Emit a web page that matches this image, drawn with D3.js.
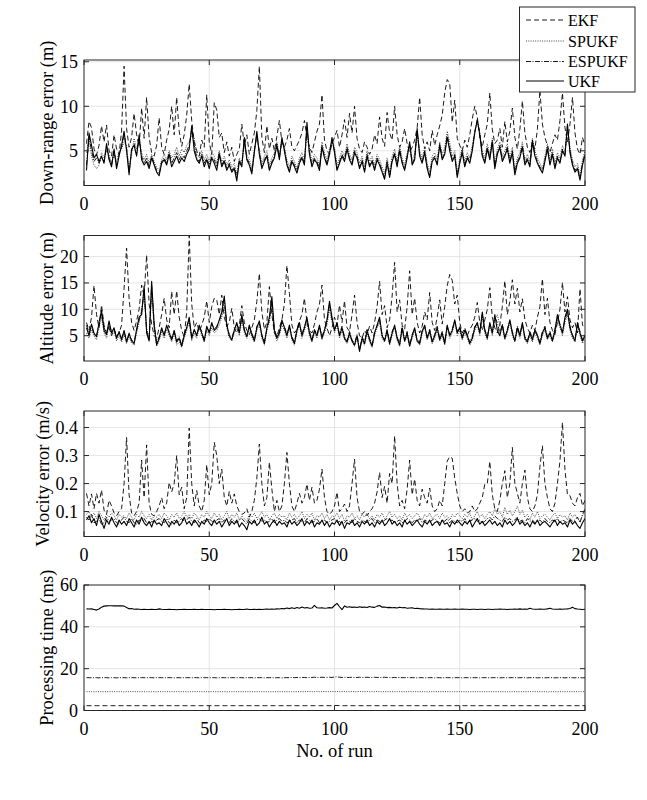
<!DOCTYPE html>
<html><head><meta charset="utf-8">
<script src="https://cdn.jsdelivr.net/npm/d3@7"></script>
<style>body{margin:0;background:#fff}svg{display:block}text{font-family:"Liberation Serif","Times New Roman",serif;fill:#000}</style>
</head><body><svg id="c" width="647" height="800" font-family="Liberation Serif, Times New Roman, serif"></svg>
<script>
// ---------------- DATA ----------------
const seriesNames = ["EKF","SPUKF","ESPUKF","UKF"];
const xTicks = [0,50,100,150,200];
const yLabels = ["Down-range error (m)","Altitude error (m)","Velocity error (m/s)","Processing time (ms)"];
const yTicksDown = [5,10,15];
const yTicksAlt = [5,10,15,20];
const yTicksVel = [0.1,0.2,0.3,0.4];
const yTicksTime = [0,20,40,60];
const xLabel = "No. of run";

const ekfDown = [5.8,8.3,7.6,5.2,4.5,5.6,7.8,6.0,7.9,5.0,
4.4,6.8,5.2,4.6,7.2,14.5,7.5,5.4,6.5,9.2,
6.8,5.5,9.8,6.4,11.0,6.5,4.8,4.4,5.6,8.7,
5.4,4.6,6.2,7.4,10.0,6.8,11.0,7.2,5.5,6.8,
9.0,12.5,8.4,6.0,5.0,4.4,6.2,5.4,11.3,6.0,
4.6,10.4,9.6,6.5,7.0,4.8,6.0,4.4,5.4,3.8,
4.6,5.2,8.0,5.6,6.8,4.6,5.8,7.0,9.5,14.5,
6.5,4.8,7.8,5.2,6.4,5.0,6.6,8.4,6.0,5.4,
6.2,7.5,5.4,5.0,5.6,6.2,7.0,8.4,6.5,5.4,
4.8,6.0,7.2,8.0,11.3,6.2,5.0,4.6,5.8,6.5,
7.3,5.4,6.8,8.5,6.5,9.2,7.0,10.0,6.4,5.2,
4.8,6.0,5.4,4.6,5.2,6.8,5.8,8.8,6.4,5.5,
9.3,7.0,6.2,10.0,6.8,5.4,6.0,7.5,5.8,4.8,
5.4,6.2,7.6,11.0,6.8,5.2,6.0,5.0,7.3,5.6,
6.8,7.8,9.0,11.5,13.0,12.6,8.2,10.7,6.4,5.6,
5.0,6.2,5.4,6.8,8.6,10.0,8.8,6.5,5.4,6.8,
8.0,11.5,7.4,5.8,6.2,7.5,5.4,8.3,6.0,7.2,
9.8,6.5,5.2,7.4,10.6,7.0,5.4,4.8,6.0,5.2,
7.4,11.8,8.0,6.5,5.6,4.8,5.8,6.8,6.2,8.4,
11.5,7.6,6.0,8.0,11.0,7.0,5.2,4.6,6.5,5.6];
const spukfDown = [4.8,6.2,4.4,3.4,3.0,3.4,4.8,4.2,5.0,4.6,
3.6,4.6,3.8,5.0,5.2,6.0,5.6,3.0,4.6,6.4,
5.2,6.0,4.8,4.0,4.6,3.6,4.6,3.8,3.2,2.8,
4.0,4.6,4.0,5.0,4.2,4.6,5.4,4.4,5.2,4.8,
5.6,6.0,6.8,6.5,4.6,4.2,5.0,4.0,4.6,3.8,
4.8,4.4,3.6,5.0,3.8,4.4,3.4,4.0,3.2,3.6,
2.4,4.2,3.8,5.6,4.6,4.0,3.0,5.2,6.2,5.2,
3.6,4.4,5.0,3.4,4.2,4.8,6.0,4.6,6.0,5.4,
4.0,3.2,4.4,3.8,3.0,4.2,4.8,4.0,7.0,5.2,
3.8,4.6,4.2,3.4,6.0,4.8,4.0,5.2,6.0,5.4,
3.4,4.2,5.0,4.4,5.8,4.6,4.0,5.4,4.8,3.6,
4.4,3.2,5.0,3.8,4.4,3.4,4.6,4.0,3.2,2.4,
4.2,2.6,4.4,5.2,3.8,5.6,4.2,3.4,4.8,5.6,
4.0,4.6,6.8,5.0,4.2,5.4,3.6,2.6,4.4,4.8,
4.0,6.0,4.6,5.4,7.2,6.0,4.4,5.0,2.6,4.2,
5.4,3.8,4.8,4.2,5.6,7.2,8.2,7.0,5.0,4.2,
5.8,4.6,6.4,3.6,5.2,6.0,4.4,5.0,5.8,4.2,
5.4,2.9,4.2,4.8,6.0,4.0,4.6,3.8,6.4,5.0,
4.2,3.6,3.0,4.4,5.8,4.0,5.2,3.6,4.8,4.2,
5.6,5.0,7.4,5.4,4.0,3.2,3.6,2.2,4.0,5.0];
const espukfDown = [3.4,6.6,5.0,3.8,4.2,3.6,4.2,3.8,5.4,4.2,
3.4,5.0,3.4,4.6,5.4,6.8,5.2,2.6,5.0,5.8,
4.6,6.4,4.4,3.6,4.2,3.2,4.4,3.6,2.8,2.4,
3.8,4.2,3.6,4.8,3.6,4.2,4.8,4.0,4.6,4.2,
5.0,5.6,7.4,5.6,4.2,3.8,4.6,3.6,4.2,3.4,
4.4,4.0,3.2,4.8,3.4,4.0,3.0,3.6,2.8,3.2,
2.0,4.0,3.4,6.0,4.2,3.6,2.6,5.0,6.8,4.8,
3.2,4.0,4.6,3.0,3.8,4.4,5.8,4.2,6.2,5.2,
3.6,2.8,4.0,3.4,2.8,3.8,4.4,3.6,7.6,4.8,
3.4,4.2,3.8,3.0,5.6,4.4,3.6,4.8,6.2,5.0,
3.0,3.8,4.6,4.0,5.4,4.2,3.6,5.0,4.4,3.2,
4.0,2.8,4.6,3.4,4.0,3.0,4.2,3.6,2.8,2.0,
3.8,2.2,4.0,4.8,3.4,5.2,3.8,3.0,4.4,5.8,
3.6,4.2,7.2,4.6,3.8,5.0,3.2,2.2,4.0,4.4,
3.6,5.8,4.2,4.8,6.8,5.4,4.0,4.6,2.2,3.8,
5.0,3.4,4.4,3.8,5.2,7.2,8.4,7.0,4.6,3.8,
5.4,4.2,6.2,3.2,4.8,5.6,4.0,4.6,5.4,3.8,
5.0,2.5,3.8,4.4,5.6,3.6,4.2,3.4,6.2,4.6,
3.8,3.2,2.7,4.0,5.4,3.6,4.8,3.2,4.4,3.8,
5.2,4.6,7.8,5.0,3.6,2.8,3.2,1.9,3.6,4.7];
const ukfDown = [2.8,7.0,5.6,4.2,4.6,3.8,4.4,3.6,5.8,4.0,
3.2,5.2,3.0,4.4,5.6,7.2,5.0,2.3,5.2,5.6,
4.4,6.8,4.0,3.4,3.8,3.0,4.2,3.4,2.6,2.2,
3.6,4.0,3.4,4.6,3.2,3.8,4.4,3.6,4.2,3.8,
4.6,5.2,7.8,5.0,4.0,3.6,4.4,3.2,4.0,3.0,
4.2,3.6,2.8,4.6,3.2,3.8,2.8,3.4,2.6,3.0,
1.6,3.8,3.2,6.5,4.0,3.4,2.4,4.8,7.2,4.6,
3.0,3.8,4.4,2.8,3.6,4.2,5.6,4.0,6.5,5.0,
3.4,2.6,3.8,3.2,2.5,3.6,4.2,3.4,8.2,4.6,
3.2,4.0,3.6,2.8,5.4,4.2,3.4,4.6,6.5,4.8,
2.8,3.6,4.4,3.8,5.2,4.0,3.4,4.8,4.2,3.0,
3.8,2.6,4.4,3.2,3.8,2.8,4.0,3.4,2.6,1.8,
3.6,2.0,3.8,4.6,3.2,5.0,3.6,2.8,4.2,6.0,
3.4,4.0,7.5,4.4,3.6,4.8,3.0,2.0,3.8,4.2,
3.4,5.6,4.0,4.6,6.5,5.0,3.8,4.4,2.0,3.6,
4.8,3.2,4.2,3.6,5.0,7.0,8.5,6.8,4.4,3.6,
5.2,4.0,6.0,3.0,4.6,5.4,3.8,4.4,5.2,3.6,
4.8,2.3,3.6,4.2,5.4,3.4,4.0,3.2,6.0,4.4,
3.6,3.0,2.5,3.8,5.2,3.4,4.6,3.0,4.2,3.6,
5.0,4.4,8.0,4.8,3.4,2.6,3.0,1.7,3.4,4.5];

const ekfAlt = [7.5,6.0,8.5,14.5,9.0,6.5,10.8,7.0,5.5,6.5,
5.0,6.2,4.8,5.5,7.0,14.0,21.6,12.0,7.5,6.0,
7.8,10.0,14.6,12.5,20.3,11.0,7.2,5.0,4.5,6.5,
9.0,12.1,8.0,6.5,13.4,9.0,13.5,8.5,6.0,4.8,
9.5,24.0,11.0,6.5,7.5,5.8,7.0,8.5,11.6,7.5,
10.5,12.1,11.8,9.0,12.7,8.5,6.8,7.5,10.2,6.5,
5.5,7.0,10.7,7.5,6.0,5.2,6.5,8.0,11.5,16.8,
9.5,6.2,7.5,14.3,9.0,5.5,4.8,6.5,8.0,11.0,
18.3,13.0,7.0,5.5,6.2,7.8,9.0,12.1,7.5,6.0,
5.5,7.2,9.5,11.0,14.6,8.0,6.5,5.0,6.5,8.5,
7.0,10.8,7.5,11.6,6.5,5.8,9.0,12.7,7.5,5.0,
4.5,6.0,5.2,6.8,5.5,7.5,10.5,15.3,9.0,10.7,
6.5,8.0,12.5,18.9,9.5,11.8,7.0,6.2,10.5,17.3,
9.0,12.1,7.5,5.5,6.8,9.5,8.0,13.2,7.5,6.0,
8.5,11.8,7.2,10.5,14.5,16.6,15.5,11.0,12.7,7.5,
5.5,6.5,5.0,6.2,7.0,8.5,11.3,7.5,6.0,8.0,
10.0,14.1,8.5,6.5,5.5,7.0,10.5,15.4,9.0,11.5,
15.6,11.0,14.0,9.5,12.0,8.0,6.5,5.5,7.0,6.0,
8.5,10.5,15.8,9.0,12.1,7.5,6.0,5.2,7.5,10.0,
15.1,9.5,12.4,8.0,6.5,7.5,5.5,13.9,7.0,6.5];
const spukfAlt = [5.5,4.5,6.0,5.0,4.2,6.5,8.5,5.5,4.5,6.8,
5.0,5.8,4.0,5.0,3.8,5.2,3.5,4.8,3.6,3.2,
5.5,7.5,10.0,12.5,6.5,4.5,13.0,6.5,3.0,4.0,
5.8,4.5,6.2,5.0,3.8,5.5,3.2,3.8,2.8,4.5,
6.0,7.5,4.0,5.5,4.5,6.5,5.0,3.8,6.0,5.0,
6.5,5.5,6.0,7.0,8.5,10.5,6.5,4.5,4.0,5.5,
6.5,5.0,8.0,5.5,4.5,6.5,4.8,3.8,6.0,7.0,
4.5,3.2,6.0,7.5,10.5,5.5,4.0,5.0,7.0,6.0,
4.5,6.5,4.2,3.2,5.5,7.0,4.5,6.0,7.5,5.0,
3.8,5.5,4.5,6.5,4.2,5.5,7.0,10.0,7.5,5.5,
7.0,4.5,6.0,4.2,3.5,5.0,3.8,3.0,4.5,2.5,
4.0,3.2,5.5,3.8,2.8,5.0,6.5,7.5,4.5,3.8,
5.5,3.2,5.0,6.5,4.2,3.0,6.0,3.8,5.0,3.0,
4.5,6.0,3.8,3.2,5.5,6.5,4.2,5.5,3.5,4.5,
6.0,4.0,5.0,3.2,6.5,4.5,5.5,7.5,5.0,6.0,
4.2,5.5,4.5,3.2,4.2,6.0,7.0,5.0,8.5,5.5,
4.2,7.0,5.0,8.0,9.0,7.0,6.5,4.2,5.5,7.5,
5.0,3.8,6.0,4.5,7.0,4.2,3.5,5.0,3.8,5.5,
4.5,3.2,5.0,6.0,4.2,5.0,3.8,5.5,8.0,6.5,
5.0,7.5,9.0,6.0,4.5,3.8,7.0,5.0,3.5,4.5];
const espukfAlt = [7.0,5.5,6.8,5.2,5.0,7.0,9.2,6.5,5.5,7.2,
5.8,6.2,4.8,5.5,4.5,5.8,4.0,5.2,4.2,3.8,
6.0,8.0,9.5,13.5,6.0,4.2,14.5,7.5,3.5,4.8,
6.2,5.2,6.8,5.8,4.5,5.8,4.0,4.8,3.2,5.2,
6.8,8.0,4.8,6.0,5.2,6.8,5.8,4.2,6.5,5.8,
7.2,6.2,6.8,7.8,9.0,11.8,7.2,5.2,4.5,6.2,
7.2,5.8,8.5,6.2,5.0,6.8,5.5,4.2,6.8,7.5,
5.2,3.8,6.2,8.0,11.5,6.2,4.8,5.8,7.5,6.8,
5.2,6.8,4.8,3.8,6.2,7.2,5.2,6.8,8.0,5.8,
4.2,6.2,5.2,6.8,4.8,6.2,7.8,11.0,8.0,6.2,
7.2,5.2,6.8,4.8,4.0,5.8,4.2,3.5,5.2,2.2,
4.8,3.8,6.2,4.5,3.2,5.8,6.8,8.0,5.2,4.2,
6.2,3.8,5.8,6.8,4.8,3.5,6.8,4.2,5.8,3.2,
5.2,6.2,4.2,3.8,6.0,6.8,4.8,6.2,4.0,5.2,
6.8,4.5,5.8,3.8,6.8,5.2,6.2,7.8,5.8,6.8,
4.8,6.2,5.2,3.8,4.8,6.8,7.2,5.8,9.0,6.2,
4.8,7.2,5.8,8.5,7.5,5.5,7.2,4.8,6.2,7.8,
5.8,4.2,6.8,5.2,7.2,4.8,4.0,5.8,4.5,6.2,
5.2,3.8,5.8,6.8,4.8,5.8,4.2,6.2,8.5,7.2,
5.8,8.0,9.5,6.8,5.2,4.2,7.2,5.8,4.2,5.2];
const ukfAlt = [6.5,5.0,7.2,5.5,4.8,7.5,9.8,6.0,5.2,7.8,
5.5,6.5,4.5,5.8,4.2,6.0,3.8,5.5,4.0,3.5,
6.2,8.5,9.0,14.4,5.5,4.0,15.3,7.0,3.2,4.5,
6.5,5.0,7.0,5.5,4.2,6.0,3.8,4.5,3.0,5.0,
6.5,8.5,4.5,6.2,5.0,7.0,5.5,4.0,6.8,5.5,
7.5,6.0,6.5,8.0,9.5,12.5,7.0,5.0,4.2,6.0,
7.5,5.5,9.0,6.0,4.8,7.0,5.2,4.0,6.5,7.8,
5.0,3.5,6.5,8.5,12.4,6.0,4.5,5.5,8.0,6.5,
5.0,7.0,4.5,3.5,6.0,7.5,5.0,6.5,8.5,5.5,
4.0,6.0,5.0,7.0,4.5,6.0,8.0,11.5,8.5,6.0,
7.5,5.0,6.5,4.5,3.8,5.5,4.0,3.2,5.0,2.0,
4.5,3.5,6.0,4.2,3.0,5.5,7.0,8.5,5.0,4.0,
6.0,3.5,5.5,7.0,4.5,3.2,6.5,4.0,5.5,3.0,
5.0,6.5,4.0,3.5,5.8,7.0,4.5,6.0,3.8,5.0,
6.5,4.2,5.5,3.5,7.0,5.0,6.0,8.0,5.5,6.5,
4.5,6.0,5.0,3.5,4.5,6.5,7.5,5.5,9.5,6.0,
4.5,7.5,5.5,9.0,6.0,5.0,7.0,4.5,6.0,8.0,
5.5,4.0,6.5,5.0,7.5,4.5,3.8,5.5,4.2,6.0,
5.0,3.5,5.5,6.5,4.5,5.5,4.0,6.0,9.0,7.0,
5.5,8.5,10.0,6.5,5.0,4.0,7.5,5.5,4.0,5.0];

const ekfVel = [0.165,0.12,0.163,0.11,0.165,0.13,0.177,0.105,0.09,0.14,
0.12,0.095,0.085,0.1,0.11,0.2,0.365,0.16,0.095,0.085,
0.1,0.13,0.284,0.15,0.338,0.13,0.09,0.085,0.1,0.12,
0.15,0.11,0.13,0.204,0.17,0.2,0.3,0.16,0.187,0.11,
0.15,0.398,0.2,0.12,0.175,0.12,0.1,0.14,0.267,0.16,
0.2,0.347,0.3,0.2,0.252,0.15,0.12,0.172,0.13,0.163,
0.12,0.1,0.09,0.095,0.11,0.08,0.1,0.14,0.22,0.341,
0.2,0.12,0.15,0.276,0.18,0.1,0.14,0.1,0.12,0.2,
0.311,0.2,0.12,0.1,0.13,0.165,0.13,0.15,0.198,0.14,
0.187,0.13,0.14,0.18,0.252,0.15,0.1,0.09,0.1,0.12,
0.169,0.1,0.11,0.127,0.1,0.12,0.2,0.287,0.15,0.1,
0.09,0.1,0.085,0.1,0.11,0.13,0.17,0.24,0.15,0.19,
0.13,0.236,0.2,0.37,0.2,0.12,0.14,0.11,0.18,0.284,
0.16,0.216,0.14,0.12,0.18,0.15,0.13,0.184,0.12,0.1,
0.11,0.14,0.12,0.2,0.28,0.296,0.29,0.22,0.165,0.12,
0.1,0.11,0.095,0.1,0.12,0.1,0.11,0.13,0.15,0.198,
0.2,0.279,0.16,0.11,0.1,0.14,0.2,0.246,0.15,0.2,
0.329,0.2,0.165,0.13,0.2,0.248,0.15,0.11,0.1,0.12,
0.16,0.26,0.335,0.2,0.15,0.11,0.1,0.13,0.2,0.28,
0.418,0.25,0.16,0.157,0.13,0.12,0.15,0.165,0.12,0.14];
const spukfVel = [0.09,0.1,0.08,0.095,0.075,0.1,0.085,0.07,0.09,0.08,
0.095,0.085,0.07,0.09,0.08,0.085,0.075,0.095,0.08,0.07,
0.09,0.08,0.1,0.085,0.075,0.09,0.07,0.085,0.08,0.09,
0.075,0.095,0.085,0.07,0.09,0.08,0.095,0.075,0.085,0.1,
0.08,0.09,0.075,0.095,0.085,0.07,0.09,0.08,0.1,0.085,
0.075,0.095,0.08,0.09,0.07,0.085,0.1,0.075,0.09,0.08,
0.095,0.07,0.085,0.075,0.065,0.09,0.08,0.095,0.075,0.085,
0.1,0.08,0.09,0.07,0.085,0.095,0.075,0.09,0.08,0.085,
0.07,0.095,0.08,0.09,0.075,0.085,0.1,0.075,0.09,0.08,
0.095,0.07,0.085,0.08,0.095,0.075,0.09,0.07,0.085,0.08,
0.095,0.075,0.09,0.065,0.085,0.08,0.095,0.075,0.085,0.07,
0.09,0.08,0.095,0.075,0.085,0.07,0.09,0.08,0.095,0.075,
0.085,0.1,0.08,0.09,0.075,0.085,0.07,0.095,0.08,0.09,
0.075,0.085,0.095,0.08,0.07,0.09,0.08,0.095,0.075,0.085,
0.09,0.075,0.095,0.08,0.085,0.07,0.09,0.08,0.095,0.085,
0.075,0.09,0.08,0.095,0.07,0.085,0.1,0.08,0.09,0.075,
0.09,0.1,0.085,0.11,0.09,0.1,0.08,0.115,0.09,0.105,
0.085,0.1,0.12,0.09,0.105,0.08,0.09,0.07,0.095,0.08,
0.1,0.075,0.085,0.09,0.08,0.07,0.085,0.095,0.075,0.09,
0.08,0.085,0.07,0.095,0.08,0.09,0.075,0.065,0.085,0.1];
const espukfVel = [0.08,0.07,0.09,0.06,0.065,0.075,0.055,0.06,0.08,0.065,
0.07,0.075,0.06,0.055,0.07,0.08,0.065,0.06,0.075,0.06,
0.055,0.07,0.065,0.075,0.06,0.055,0.065,0.06,0.07,0.075,
0.065,0.06,0.075,0.06,0.055,0.07,0.06,0.065,0.075,0.065,
0.07,0.08,0.065,0.06,0.075,0.06,0.055,0.07,0.065,0.075,
0.065,0.06,0.07,0.075,0.06,0.07,0.065,0.06,0.075,0.065,
0.06,0.07,0.075,0.065,0.055,0.075,0.065,0.06,0.07,0.075,
0.065,0.07,0.06,0.065,0.075,0.06,0.07,0.075,0.065,0.07,
0.06,0.065,0.07,0.075,0.06,0.07,0.065,0.06,0.075,0.07,
0.06,0.065,0.075,0.06,0.065,0.07,0.06,0.065,0.07,0.075,
0.06,0.065,0.055,0.06,0.07,0.065,0.06,0.075,0.065,0.06,
0.07,0.065,0.06,0.07,0.075,0.06,0.07,0.065,0.06,0.07,
0.075,0.065,0.07,0.06,0.065,0.07,0.06,0.065,0.075,0.07,
0.06,0.07,0.065,0.075,0.06,0.07,0.065,0.06,0.07,0.075,
0.065,0.06,0.07,0.065,0.075,0.06,0.07,0.065,0.06,0.07,
0.065,0.075,0.06,0.065,0.07,0.075,0.065,0.07,0.06,0.065,
0.075,0.08,0.07,0.085,0.075,0.07,0.065,0.08,0.07,0.075,
0.065,0.07,0.08,0.065,0.07,0.06,0.075,0.065,0.07,0.06,
0.065,0.07,0.06,0.075,0.065,0.06,0.07,0.065,0.075,0.06,
0.07,0.065,0.06,0.075,0.065,0.07,0.08,0.06,0.09,0.11];
const ukfVel = [0.07,0.085,0.06,0.075,0.05,0.09,0.065,0.04,0.07,0.055,
0.08,0.06,0.045,0.07,0.055,0.065,0.05,0.075,0.06,0.045,
0.07,0.055,0.08,0.06,0.05,0.065,0.045,0.07,0.055,0.06,
0.05,0.075,0.06,0.045,0.065,0.055,0.07,0.05,0.06,0.08,
0.055,0.065,0.05,0.07,0.06,0.045,0.065,0.055,0.075,0.06,
0.05,0.07,0.055,0.065,0.045,0.06,0.075,0.05,0.065,0.055,
0.07,0.045,0.06,0.05,0.035,0.065,0.055,0.07,0.05,0.06,
0.08,0.055,0.065,0.045,0.06,0.07,0.05,0.065,0.055,0.06,
0.045,0.07,0.055,0.065,0.05,0.06,0.075,0.05,0.065,0.055,
0.07,0.045,0.06,0.055,0.07,0.05,0.065,0.045,0.06,0.055,
0.07,0.05,0.065,0.04,0.06,0.055,0.07,0.05,0.06,0.045,
0.065,0.055,0.07,0.05,0.06,0.045,0.065,0.055,0.07,0.05,
0.06,0.075,0.055,0.065,0.05,0.06,0.045,0.07,0.055,0.065,
0.05,0.06,0.07,0.055,0.045,0.065,0.055,0.07,0.05,0.06,
0.065,0.05,0.07,0.055,0.06,0.045,0.065,0.055,0.07,0.06,
0.05,0.065,0.055,0.07,0.045,0.06,0.075,0.055,0.065,0.05,
0.06,0.07,0.055,0.065,0.05,0.06,0.045,0.07,0.055,0.065,
0.05,0.06,0.075,0.055,0.065,0.05,0.06,0.045,0.065,0.055,
0.07,0.05,0.06,0.065,0.055,0.045,0.06,0.07,0.05,0.065,
0.055,0.06,0.045,0.07,0.055,0.065,0.05,0.04,0.06,0.075];

const ekfTime = [2.3,2.3,2.3,2.3,2.3,2.3,2.3,2.3,2.3,2.3,
2.3,2.3,2.3,2.3,2.3,2.3,2.3,2.3,2.3,2.3,
2.3,2.3,2.3,2.3,2.3,2.3,2.3,2.3,2.3,2.3,
2.3,2.3,2.3,2.3,2.3,2.3,2.3,2.3,2.3,2.3,
2.3,2.3,2.3,2.3,2.3,2.3,2.3,2.3,2.3,2.3,
2.3,2.3,2.3,2.3,2.3,2.3,2.3,2.3,2.3,2.3,
2.3,2.3,2.3,2.3,2.3,2.3,2.3,2.3,2.3,2.3,
2.3,2.3,2.3,2.3,2.3,2.3,2.3,2.3,2.3,2.3,
2.3,2.3,2.3,2.3,2.3,2.3,2.3,2.3,2.3,2.3,
2.3,2.3,2.3,2.3,2.3,2.3,2.3,2.3,2.3,2.4,
2.4,2.3,2.3,2.3,2.3,2.3,2.3,2.3,2.3,2.3,
2.3,2.3,2.3,2.3,2.3,2.3,2.3,2.3,2.3,2.3,
2.3,2.3,2.3,2.3,2.3,2.3,2.3,2.3,2.3,2.3,
2.3,2.3,2.3,2.3,2.3,2.3,2.3,2.3,2.3,2.3,
2.3,2.3,2.3,2.3,2.3,2.3,2.3,2.3,2.3,2.3,
2.3,2.3,2.3,2.3,2.3,2.3,2.3,2.3,2.3,2.3,
2.3,2.3,2.3,2.3,2.3,2.3,2.3,2.3,2.3,2.3,
2.3,2.3,2.3,2.3,2.3,2.3,2.3,2.3,2.3,2.3,
2.3,2.3,2.3,2.3,2.3,2.3,2.3,2.3,2.3,2.3,
2.3,2.3,2.3,2.3,2.3,2.3,2.3,2.3,2.3,2.3];
const spukfTime = [9.0,9.0,9.0,8.9,9.0,9.0,9.0,9.0,9.0,9.0,
9.0,9.0,9.0,9.0,9.0,8.9,9.0,9.0,9.0,9.0,
9.0,9.0,9.0,9.0,9.0,9.0,9.0,9.0,8.9,9.0,
9.0,9.0,9.0,9.0,9.0,9.0,9.0,9.0,9.0,9.0,
9.0,8.9,9.0,9.0,9.0,9.0,9.0,9.0,9.0,9.0,
9.0,9.0,9.0,9.0,9.0,9.0,8.9,9.0,9.0,9.0,
9.0,9.0,9.0,9.0,9.0,9.0,9.0,9.0,9.0,9.0,
9.0,9.0,9.0,8.9,9.0,9.0,9.0,9.0,9.0,9.0,
9.0,9.0,9.0,9.0,9.0,9.0,9.0,9.0,9.0,9.1,
9.0,9.0,9.1,9.0,9.0,9.1,9.0,9.0,9.1,9.0,
9.1,9.0,9.0,9.1,9.0,9.0,9.1,9.0,9.0,9.1,
9.0,9.0,9.1,9.0,9.0,9.0,9.1,9.0,9.0,9.0,
9.0,9.0,9.0,9.0,9.0,9.0,9.0,9.0,9.0,9.0,
9.0,9.0,9.0,9.0,9.0,9.0,8.9,9.0,9.0,9.0,
9.0,9.0,9.0,9.0,9.0,9.0,9.0,9.0,9.0,9.0,
9.0,9.0,8.9,9.0,9.0,9.0,9.0,9.0,9.0,9.0,
9.0,9.0,9.0,9.0,9.0,9.0,9.0,9.0,8.9,9.0,
9.0,9.0,9.0,9.0,9.0,9.0,9.0,9.0,9.0,9.0,
9.0,9.0,9.0,9.0,8.9,9.0,9.0,9.0,9.0,9.0,
9.0,9.0,9.0,9.0,9.0,9.0,9.0,9.0,9.0,9.0];
const espukfTime = [15.7,15.7,15.6,15.7,15.7,15.6,15.7,15.7,15.7,15.6,
15.7,15.7,15.6,15.7,15.7,15.7,15.6,15.7,15.7,15.7,
15.6,15.7,15.7,15.7,15.6,15.7,15.7,15.6,15.7,15.7,
15.7,15.6,15.7,15.7,15.7,15.6,15.7,15.7,15.6,15.7,
15.7,15.7,15.6,15.7,15.7,15.6,15.7,15.7,15.7,15.6,
15.7,15.7,15.6,15.7,15.7,15.7,15.6,15.7,15.7,15.7,
15.6,15.7,15.7,15.6,15.7,15.7,15.7,15.6,15.7,15.7,
15.7,15.6,15.7,15.7,15.7,15.6,15.7,15.7,15.6,15.7,
15.7,15.7,15.8,15.7,15.8,15.7,15.8,15.8,15.7,15.8,
15.8,15.9,15.8,15.8,15.9,15.8,15.8,15.9,15.8,16.0,
16.1,15.9,15.8,15.9,15.8,15.8,15.9,15.8,15.8,15.9,
15.8,15.8,15.9,15.8,15.8,15.9,15.8,15.8,15.8,15.9,
15.8,15.8,15.7,15.8,15.7,15.8,15.7,15.7,15.8,15.7,
15.7,15.7,15.6,15.7,15.7,15.6,15.7,15.7,15.7,15.6,
15.7,15.7,15.6,15.7,15.7,15.7,15.6,15.7,15.7,15.7,
15.6,15.7,15.7,15.6,15.7,15.7,15.7,15.6,15.7,15.7,
15.7,15.6,15.7,15.7,15.7,15.6,15.7,15.7,15.6,15.7,
15.7,15.7,15.6,15.7,15.7,15.7,15.6,15.7,15.7,15.7,
15.6,15.7,15.7,15.6,15.7,15.7,15.7,15.6,15.7,15.7,
15.7,15.6,15.7,15.7,15.7,15.6,15.7,15.7,15.6,15.7];
const ukfTime = [48.6,48.5,48.6,48.3,48.0,48.5,49.4,49.9,50.0,50.1,
50.1,50.0,50.1,50.0,50.1,49.9,49.2,48.6,48.8,48.4,
48.5,48.4,48.3,48.4,48.3,48.3,48.4,48.3,48.3,48.6,
48.4,48.3,48.3,48.4,48.3,48.3,48.2,48.3,48.3,48.4,
48.3,48.3,48.3,48.4,48.3,48.3,48.4,48.3,48.3,48.3,
48.3,48.2,48.3,48.3,48.3,48.4,48.3,48.3,48.2,48.3,
48.3,48.4,48.3,48.3,48.5,48.3,48.3,48.4,48.3,48.4,
48.3,48.4,48.5,48.4,48.5,48.4,48.6,48.5,48.8,48.6,
49.0,48.7,49.1,48.8,49.2,48.9,49.5,49.0,49.2,48.9,
49.0,50.3,49.1,49.0,49.1,48.9,49.0,49.2,49.0,50.2,
51.2,49.6,48.2,50.0,49.4,49.6,49.3,49.5,49.2,49.6,
49.3,49.5,49.2,49.7,49.4,49.3,49.9,50.2,49.4,49.5,
49.2,49.3,49.1,49.2,49.0,49.4,49.1,49.2,48.9,49.0,
49.1,48.8,48.9,48.7,48.6,48.5,48.5,48.4,48.5,48.4,
48.4,48.5,48.4,48.4,48.5,48.4,48.4,48.5,48.4,48.4,
48.5,48.4,48.4,48.3,48.4,48.4,48.3,48.4,48.4,48.3,
48.4,48.4,48.3,48.4,48.4,48.5,48.4,48.4,48.3,48.4,
48.4,48.5,48.4,48.6,48.4,48.5,48.4,48.9,48.5,48.4,
48.4,48.5,48.4,48.4,48.6,48.9,48.5,48.4,48.4,48.5,
48.4,48.5,48.6,48.8,49.4,48.7,48.5,48.4,48.3,48.4];

// ---------------- DRAW ----------------
const left = 84, right = 585;
const tops = [60, 235.5, 411, 585];
const ph = 125.5;
const yDomains = [[1.1,15.2],[0.2,24],[0.011,0.459],[0,60]];
const yTickSets = [yTicksDown, yTicksAlt, yTicksVel, yTicksTime];
const yFormats = [d3.format("d"), d3.format("d"), d3.format(".1f"), d3.format("d")];
const yLabelX = [53, 53, 49, 53];
const panelData = [
  [ekfDown, spukfDown, espukfDown, ukfDown],
  [ekfAlt, spukfAlt, espukfAlt, ukfAlt],
  [ekfVel, spukfVel, espukfVel, ukfVel],
  [ekfTime, spukfTime, espukfTime, ukfTime]
];
const styles = {
  EKF:    {dash:"5,3",        color:"#000", w:0.9},
  SPUKF:  {dash:"1,1.3",      color:"#333", w:0.9},
  ESPUKF: {dash:"5,1.5,1,1.5",color:"#000", w:0.9},
  UKF:    {dash:null,         color:"#000", w:1.1}
};
const axisColor = "#262626", gridColor = "#dedede";
const fontFam = "'Liberation Serif','Times New Roman',serif";

const svg = d3.select("#c");
const x = d3.scaleLinear().domain([0,200]).range([left,right]);

panelData.forEach((series, p) => {
  const top = tops[p], bottom = top + ph;
  const y = d3.scaleLinear().domain(yDomains[p]).range([bottom, top]);
  const g = svg.append("g").style("font-family", fontFam);

  g.selectAll(null).data(xTicks.filter(t=>t>0&&t<200)).join("line")
    .attr("x1", d=>x(d)).attr("x2", d=>x(d)).attr("y1", top).attr("y2", bottom)
    .attr("stroke", gridColor).attr("stroke-width", 0.8);
  g.selectAll(null).data(yTickSets[p].filter(t=>y(t)>top+0.5&&y(t)<bottom-0.5)).join("line")
    .attr("x1", left).attr("x2", right).attr("y1", d=>y(d)).attr("y2", d=>y(d))
    .attr("stroke", gridColor).attr("stroke-width", 0.8);

  const cid = "clip" + p;
  svg.append("clipPath").attr("id", cid).append("rect")
    .attr("x", left).attr("y", top).attr("width", right-left).attr("height", ph);

  const line = d3.line().x((d,i)=>x(i+1)).y(d=>y(d));
  const lg = g.append("g").attr("clip-path", `url(#${cid})`);
  series.forEach((arr, k) => {
    const st = styles[seriesNames[k]];
    lg.append("path").datum(arr).attr("d", line)
      .attr("fill","none").attr("stroke", st.color).attr("stroke-width", st.w)
      .attr("stroke-dasharray", st.dash).attr("stroke-linejoin","round");
  });

  g.append("rect").attr("x", left).attr("y", top).attr("width", right-left).attr("height", ph)
    .attr("fill","none").attr("stroke", axisColor).attr("stroke-width", 1);

  const tl = 5;
  xTicks.forEach(t => {
    g.append("line").attr("x1",x(t)).attr("x2",x(t)).attr("y1",bottom).attr("y2",bottom-tl).attr("stroke",axisColor);
    g.append("line").attr("x1",x(t)).attr("x2",x(t)).attr("y1",top).attr("y2",top+tl).attr("stroke",axisColor);
    g.append("text").attr("x", x(t)).attr("y", bottom+24).attr("text-anchor","middle")
      .attr("font-size", 18).text(t);
  });
  yTickSets[p].forEach(t => {
    g.append("line").attr("x1",left).attr("x2",left+tl).attr("y1",y(t)).attr("y2",y(t)).attr("stroke",axisColor);
    g.append("line").attr("x1",right).attr("x2",right-tl).attr("y1",y(t)).attr("y2",y(t)).attr("stroke",axisColor);
    g.append("text").attr("x", left-6).attr("y", y(t)).attr("dy","0.35em").attr("text-anchor","end")
      .attr("font-size", 18).text(yFormats[p](t));
  });

  g.append("text").attr("transform", `translate(${yLabelX[p]},${top+ph/2}) rotate(-90)`)
    .attr("text-anchor","middle").attr("font-size", 18.5).text(yLabels[p]);
});

svg.append("text").attr("x", (left+right)/2).attr("y", 757).attr("text-anchor","middle")
  .style("font-family", fontFam).attr("font-size", 18.5).text(xLabel);

const lgX = 519.5, lgY = 7, lgW = 115.5, lgH = 85;
const leg = svg.append("g").style("font-family", fontFam);
leg.append("rect").attr("x", lgX).attr("y", lgY).attr("width", lgW).attr("height", lgH)
  .attr("fill","#fff").attr("stroke", axisColor).attr("stroke-width", 1);
const legYs = [20, 41, 61.5, 81];
seriesNames.forEach((name, k) => {
  const st = styles[name];
  leg.append("line").attr("x1", 526).attr("x2", 564).attr("y1", legYs[k]).attr("y2", legYs[k])
    .attr("stroke", st.color).attr("stroke-width", st.w).attr("stroke-dasharray", st.dash);
  leg.append("text").attr("x", 568).attr("y", legYs[k]).attr("dy","0.35em")
    .attr("font-size", 16).text(name);
});
</script></body></html>
